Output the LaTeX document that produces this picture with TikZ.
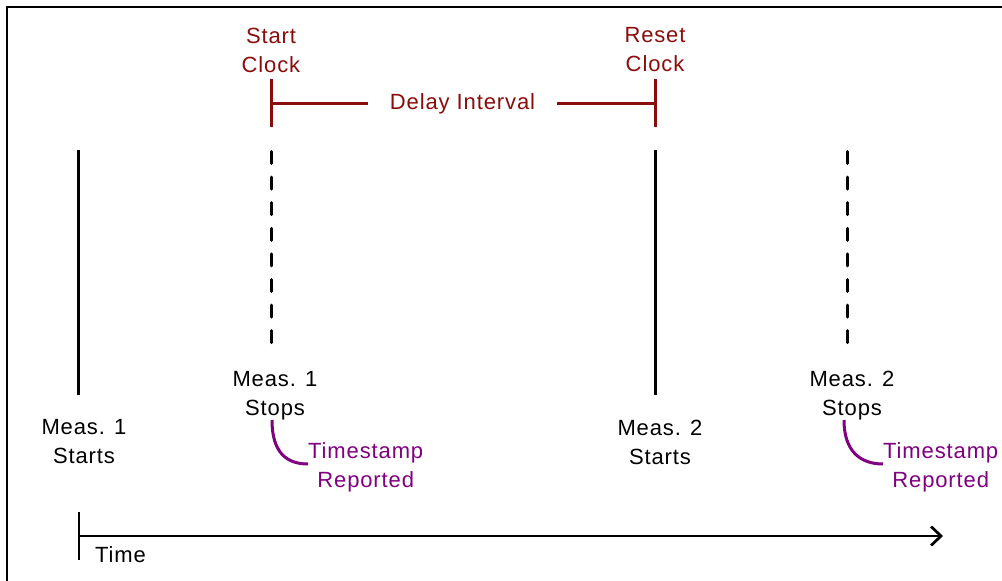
\documentclass[tikz,border=0pt]{standalone}
\usepackage{fontspec}
\setmainfont{Liberation Sans}[LetterSpace=4]
\usetikzlibrary{arrows.meta}
\definecolor{clockred}{RGB}{139,12,12}
\definecolor{stampviolet}{RGB}{128,0,128}

\tikzset{
  lbl/.style={align=center,inner sep=0pt,font=\fontsize{22}{29}\selectfont},
  meas/.style={line width=3pt},
  measdash/.style={line width=3pt,line cap=round,dash pattern=on 12pt off 13.6pt},
  clock/.style={line width=3pt,clockred},
  stamp/.style={line width=3pt,stampviolet}
}

\begin{document}
\begin{tikzpicture}[x=1pt,y=-1pt]

\useasboundingbox (0,0) rectangle (1002,581);
\draw[line width=1.5pt] (7,600) |- (1020,7);

% measurement marks
\coordinate (A1) at (78,150);  \coordinate (A2) at (78,395);
\coordinate (B1) at (271,151.5); \coordinate (B2) at (271,343);
\coordinate (C1) at (655,150); \coordinate (C2) at (655,395);
\coordinate (D1) at (847,151.5); \coordinate (D2) at (847,343);
\draw[meas] (A1) -- (A2);
\draw[measdash] (B1) -- (B2);
\draw[meas] (C1) -- (C2);
\draw[measdash] (D1) -- (D2);

\node[lbl] (M1A) at (84,442) {Meas. 1\\Starts};
\node[lbl] (M1B) at (275,395.5) {Meas. 1\\Stops};
\node[lbl] (M2A) at (660,442) {Meas. 2\\Starts};
\node[lbl] (M2B) at (852,395.5) {Meas. 2\\Stops};

% timestamps
\node[lbl,stampviolet,anchor=west] (T1) at (308,467) {Timestamp\\Reported};
\node[lbl,stampviolet,anchor=west] (T2) at (883,467) {Timestamp\\Reported};
\coordinate (S1) at (272,420);
\coordinate (S2) at (844,420);
\draw[stamp] (S1) .. controls +(0,32) and +(-22,0) .. (T1.west |- 0,464);
\draw[stamp] (S2) .. controls +(0,32) and +(-22,0) .. (T2.west |- 0,464);

% clock
\node[lbl,clockred] (SC) at (271,50) {Start\\Clock};
\node[lbl,clockred] (RC) at (655,50) {Reset\\Clock};
\node[lbl,clockred,inner xsep=22pt] (DI) at (462.5,103.5) {Delay Interval};
\coordinate (K1) at (271,79);  \coordinate (K2) at (271,127);
\coordinate (K3) at (655,79);  \coordinate (K4) at (655,127);
\draw[clock] (K1) -- (K2);
\draw[clock] (K3) -- (K4);
\draw[clock] (K1 |- 0,103) -- (DI.west |- 0,103);
\draw[clock] (DI.east |- 0,103) -- (K3 |- 0,103);

% time axis
\coordinate (T0) at (79,536);
\coordinate (TE) at (943,536);
\draw[line width=2.7pt] (79,512) -- (79,560);
\draw[line width=2.7pt,-{Straight Barb[length=10pt,width=19pt]}] (T0) -- (TE);
\node[lbl,anchor=west] (TM) at (95,555) {Time};

\end{tikzpicture}
\end{document}
